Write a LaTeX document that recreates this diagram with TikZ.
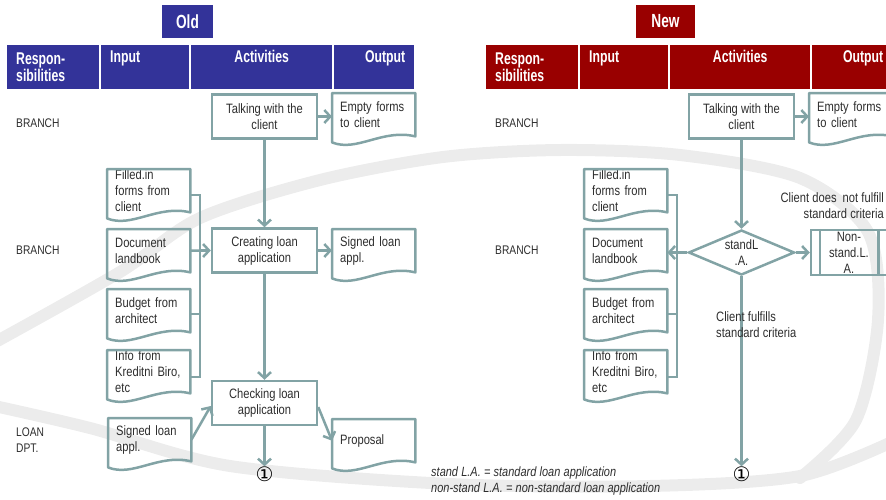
\documentclass[tikz,border=0pt]{standalone}
\usepackage{fontspec}
\setmainfont{Liberation Sans}[FakeStretch=0.82]
\newfontfamily\hdrfam{Liberation Sans}[FakeStretch=0.72]
\newfontfamily\symfam{DejaVu Sans}
\usetikzlibrary{arrows.meta,shapes.geometric,calc}
\newcommand\tightsp{\spaceskip=0.24em plus 0.08em minus 0.04em\relax}
\definecolor{oldblue}{RGB}{51,51,153}
\definecolor{newred}{RGB}{153,0,0}
\definecolor{lc}{RGB}{130,163,165}
\definecolor{tx}{RGB}{45,45,45}
\definecolor{swoosh}{RGB}{236,236,236}
\tikzset{
  flow/.style={draw=lc, line width=2.5pt},
  arr/.style={flow, -{Straight Barb[length=6pt,width=13pt]}},
  ttl/.style={fill=#1, text=white, font=\hdrfam\bfseries\fontsize{19}{20}\selectfont, minimum height=33pt, inner sep=0pt},
  hdr/.style={fill=#1, text=white, font=\hdrfam\bfseries\fontsize{17}{17.5}\selectfont, minimum height=44pt, inner xsep=9pt, inner ysep=0pt, anchor=north west},
  act/.style={draw=lc, line width=2.5pt, text=tx, font=\fontsize{13.6}{16}\selectfont\tightsp, minimum width=105pt, minimum height=44pt, align=center, inner sep=0pt},
  dia/.style={diamond, draw=lc, line width=2.5pt, aspect=2.3, minimum width=106pt, minimum height=45pt, inner sep=0pt, text=tx, font=\fontsize{13.6}{16}\selectfont\tightsp, align=center},
  docbox/.style={text=tx, font=\fontsize{13.6}{16}\selectfont\tightsp, minimum height=43pt, text width=67pt, inner xsep=8pt, inner ysep=0pt, align=left, anchor=north west},
  rowlbl/.style={text=tx, font=\fontsize{12.5}{16}\selectfont, anchor=west, inner sep=0pt, align=left},
  lbl/.style={text=tx, font=\fontsize{13.6}{16}\selectfont\tightsp, inner sep=0pt},
  sym/.style={text=black, font=\symfam\fontsize{20}{20}\selectfont, inner sep=0pt},
  swo/.style={draw=swoosh, line width=12pt, line cap=round, line join=round},
}
\newcommand\docshape[1]{%
  \draw[flow, line join=round] ($(#1.south west)+(0,6)$) -- (#1.north west) -- (#1.north east) -- (#1.south east)
    .. controls ($(#1.south east)+(-33,-8)$) and ($(#1.south west)+(25,16)$) .. ($(#1.south west)+(0,6)$) -- cycle;}
\begin{document}
\begin{tikzpicture}[x=1pt,y=-1pt]
\useasboundingbox (0,0) rectangle (886,499);
\clip (0,0) rectangle (886,499);
% background swoosh
\draw[swo] plot[smooth] coordinates {(-10,345) (120,272) (200,218) (320,180) (443,157) (560,150) (680,155) (800,178) (868,232) (878,320) (856,420) (800,478)};
\draw[swo] plot[smooth] coordinates {(-10,405) (90,428) (230,466) (450,484) (650,486) (800,476) (896,440)};

% ---------------- OLD ----------------
\node[ttl=oldblue, minimum width=51pt] (told) at (187.5,21.5) {Old};
\node[hdr=oldblue, text width=74pt, align=left] (h1) at (7,45) {Respon-\\sibilities};
\node[hdr=oldblue, text width=70pt, align=left] (h2) at (101,45) {Input\\\phantom{y}};
\node[hdr=oldblue, text width=123pt, align=center] (h3) at (191,45) {Activities\\\phantom{y}};
\node[hdr=oldblue, text width=62pt, align=right] (h4) at (334,45) {Output\\\phantom{y}};

\node[rowlbl] (r1) at (16,123) {BRANCH};
\node[rowlbl] (r2) at (16,250) {BRANCH};
\node[rowlbl] (r3) at (16,440) {LOAN\\DPT.};

\node[act] (t1) at (264.5,116.5) {Talking with the\\client};
\node[act] (c1) at (264.5,250.5) {Creating loan\\application};
\node[act] (k1) at (264.5,403) {Checking loan\\application};

\node[docbox] (e1) at (332,93) {Empty forms\\to client};
\node[docbox] (s1) at (332,229) {Signed loan\\appl.};
\node[docbox] (p1) at (332,419) {Proposal};
\node[docbox] (f1) at (107,169) {Filled.in\\forms from\\client};
\node[docbox] (d1) at (107,229) {Document\\landbook};
\node[docbox] (b1) at (107,289) {Budget from\\architect};
\node[docbox] (i1) at (107,350) {Info from\\\mbox{Kreditni Biro,}\\etc};
\node[docbox] (g1) at (108,418) {Signed loan\\appl.};
\foreach \n in {e1,s1,p1,f1,d1,b1,i1,g1} {\docshape{\n}}

\node[sym] (n1) at (264.5,474) {①};

\coordinate (o1) at (200,195);
\coordinate (o2) at (200,250.5);
\coordinate (o3) at (200,314);
\coordinate (o4) at (200,377);
\draw[flow] (f1.east |- o1) -- (o1) -- (o4) -- (i1.east |- o4);
\draw[flow] (b1.east |- o3) -- (o3);
\draw[flow] (d1.east) -- (o2);
\draw[arr] (o2) -- (c1.west);

\draw[arr] (t1.east) -- (t1.east -| e1.west);
\draw[arr] (t1.south) -- (c1.north);
\draw[arr] (c1.east) -- (c1.east -| s1.west);
\draw[arr] (c1.south) -- (k1.north);
\draw[arr] (k1.south) -- (n1.north);
\draw[arr] (g1.east) -- ([yshift=-3pt]k1.west);
\draw[arr] ([yshift=-4pt]k1.east) -- (p1.west);

% ---------------- NEW ----------------
\node[ttl=newred, minimum width=59pt] (tnew) at (665.5,21.5) {New};
\node[hdr=newred, text width=74pt, align=left] (h5) at (486,45) {Respon-\\sibilities};
\node[hdr=newred, text width=70pt, align=left] (h6) at (580,45) {Input\\\phantom{y}};
\node[hdr=newred, text width=122pt, align=center] (h7) at (670,45) {Activities\\\phantom{y}};
\node[hdr=newred, text width=62pt, align=right] (h8) at (812,45) {Output\\\phantom{y}};

\node[rowlbl] (r4) at (495,123) {BRANCH};
\node[rowlbl] (r5) at (495,250) {BRANCH};

\node[act] (t2) at (741.5,116.5) {Talking with the\\client};
\node[docbox] (e2) at (809,93) {Empty forms\\to client};
\node[dia] (dm) at (741.5,252.5) {standL\\.A.};
\node[act, minimum width=76pt, minimum height=45pt] (ns) at (849,252.5) {Non-\\stand.L.\\A.};
\draw[flow] ([xshift=10pt]ns.north west) -- ([xshift=10pt]ns.south west);
\draw[flow] ([xshift=-10pt]ns.north east) -- ([xshift=-10pt]ns.south east);

\node[docbox] (f2) at (584,169) {Filled.in\\forms from\\client};
\node[docbox] (d2) at (584,229) {Document\\landbook};
\node[docbox] (b2) at (584,289) {Budget from\\architect};
\node[docbox] (i2) at (584,350) {Info from\\\mbox{Kreditni Biro,}\\etc};
\foreach \n in {e2,f2,d2,b2,i2} {\docshape{\n}}

\node[sym] (n2) at (741.5,474) {①};

\coordinate (q1) at (677,195);
\coordinate (q3) at (677,314);
\coordinate (q4) at (677,377);
\draw[flow] (f2.east |- q1) -- (q1) -- (q4) -- (i2.east |- q4);
\draw[flow] (b2.east |- q3) -- (q3);

\draw[arr] (t2.east) -- (t2.east -| e2.west);
\draw[arr] (t2.south) -- (dm.north);
\draw[arr] (dm.east) -- (ns.west);
\draw[arr] (dm.west) -- (d2.east |- dm.west);
\draw[arr] (dm.south) -- (n2.north);

\node[lbl, anchor=east, align=right] (lb1) at (884,206) {Client does\hspace{0.45em}not fulfill\\standard criteria};
\node[lbl, anchor=west, align=left] (lb2) at (716,325) {Client fulfills\\standard criteria};
\node[lbl, anchor=west, align=left, font=\itshape\fontsize{13.4}{16}\selectfont\tightsp] (fn) at (431,481) {stand L.A. = standard loan application\\non-stand L.A. = non-standard loan application};
\end{tikzpicture}
\end{document}
